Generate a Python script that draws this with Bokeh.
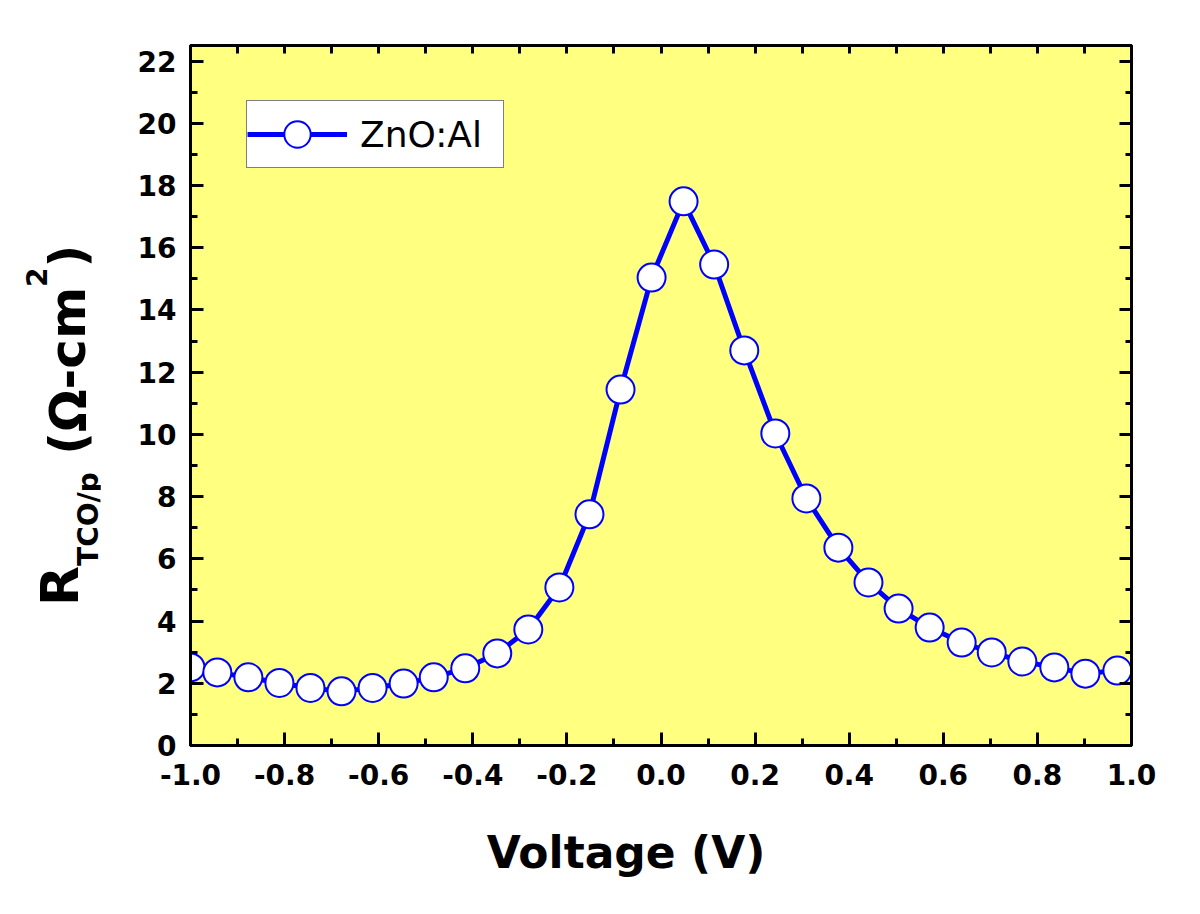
import math
from bokeh.plotting import figure
from bokeh.layouts import row, column
from bokeh.models import (Range1d, LinearAxis, SingleIntervalTicker, NumeralTickFormatter,
                          CustomJSTickFormatter, Legend, LegendItem, Div)
from bokeh.embed import file_html
from bokeh.resources import INLINE

# ---- data ----
voltage = [-1.000, -0.943, -0.877, -0.811, -0.745, -0.679, -0.613, -0.547, -0.483,
           -0.416, -0.348, -0.282, -0.216, -0.152, -0.086, -0.020, 0.048, 0.113,
           0.177, 0.243, 0.309, 0.377, 0.441, 0.505, 0.571, 0.639, 0.703, 0.768,
           0.836, 0.902, 0.970]
resistance = [2.51, 2.35, 2.19, 2.01, 1.85, 1.74, 1.85, 1.99, 2.19, 2.48, 2.96,
              3.73, 5.08, 7.43, 11.44, 15.04, 17.49, 15.46, 12.70, 10.03, 7.94,
              6.36, 5.24, 4.40, 3.79, 3.31, 2.99, 2.70, 2.51, 2.31, 2.41]
series_name = "ZnO:Al"
x_label = "Voltage (V)"

FONT = "DejaVu Sans"
BLUE = "#0000ff"

X0, X1 = -1.0, 1.0
Y0, Y1 = 0.0, 22.5
FW, FH = 941, 700
FL, FT = 190, 45          # frame left / top on the page
YDIV_W = 100              # width of the y-title column left of the figure
BOT = 60                  # space below the frame inside the figure

p = figure(frame_width=FW, frame_height=FH,
           x_range=Range1d(X0, X1), y_range=Range1d(Y0, Y1),
           output_backend="svg", toolbar_location=None,
           x_axis_type=None, y_axis_type=None,
           min_border_left=FL - YDIV_W, min_border_top=FT,
           min_border_right=40, min_border_bottom=BOT,
           background_fill_color="#ffff80", border_fill_color="white")
p.outline_line_color = "black"
p.outline_line_width = 3


def style(ax, major_in, minor_in, labels=True):
    ax.axis_line_color = "black"
    ax.axis_line_width = 3
    ax.major_tick_in = major_in
    ax.major_tick_out = 0
    ax.minor_tick_in = minor_in
    ax.minor_tick_out = 0
    ax.major_tick_line_width = 3
    ax.minor_tick_line_width = 3
    ax.major_label_text_font = FONT
    ax.major_label_text_font_style = "bold"
    ax.major_label_text_font_size = "28px"
    ax.major_label_text_color = "black"
    if not labels:
        ax.formatter = CustomJSTickFormatter(code="return ''")
        ax.major_label_text_font_size = "1px"
        ax.major_label_standoff = 0


bottom = LinearAxis(ticker=SingleIntervalTicker(interval=0.2, num_minor_ticks=2),
                    formatter=NumeralTickFormatter(format="0.0"))
style(bottom, 13, 7)
bottom.major_label_standoff = 18
p.add_layout(bottom, "below")

left = LinearAxis(ticker=SingleIntervalTicker(interval=2, num_minor_ticks=2),
                  formatter=NumeralTickFormatter(format="0"))
style(left, 13, 7)
left.major_label_standoff = 14
p.add_layout(left, "left")

top = LinearAxis(ticker=SingleIntervalTicker(interval=0.1, num_minor_ticks=0))
style(top, 8, 0, labels=False)
p.add_layout(top, "above")

right = LinearAxis(ticker=SingleIntervalTicker(interval=2, num_minor_ticks=2))
style(right, 12, 6, labels=False)
p.add_layout(right, "right")

ln = p.line(voltage, resistance, line_color=BLUE, line_width=5)
sc = p.scatter(voltage, resistance, marker="circle", size=28,
               fill_color="white", line_color=BLUE, line_width=2)

legend = Legend(items=[LegendItem(label=series_name, renderers=[ln, sc])],
                location=(246 - FL, (FT + FH) - 168),
                padding=0, spacing=0, margin=0,
                glyph_width=100, glyph_height=66, label_standoff=13,
                label_width=143, label_height=66,
                label_text_font=FONT, label_text_font_size="36px",
                label_text_color="black", label_text_baseline="middle",
                border_line_color="black", border_line_width=1.5,
                background_fill_color="white", background_fill_alpha=1.0)
p.add_layout(legend)

FIG_H = FT + FH + BOT

# ---- y axis title: R_TCO/p (Ω-cm²), rotated, as HTML text ----
y_html = f"""
<div style="position:relative; width:{YDIV_W}px; height:{FIG_H}px; overflow:visible;">
  <div style="position:absolute; left:25px; top:606px; width:420px; height:70px;
              line-height:70px; white-space:nowrap; text-align:left;
              transform-origin:0 0; transform:rotate(-90deg);
              font-family:'{FONT}'; font-weight:bold; font-size:52px; color:black;">
    <span style="font-size:52px;">R</span><span style="font-size:28px; position:relative; top:20px;">TCO/p</span><span style="font-size:50px; position:relative; top:7px;">&nbsp;(&#937;-cm</span><span style="font-size:28px; position:relative; top:-31px;">2</span><span style="font-size:50px; position:relative; top:7px;">)</span>
  </div>
</div>
"""
ydiv = Div(text=y_html, width=YDIV_W, height=FIG_H, margin=0,
           styles={"overflow": "visible"})

# ---- x axis title ----
X_DIV_H = 100
x_html = f"""
<div style="position:relative; width:1180px; height:{X_DIV_H}px; overflow:visible;">
  <div style="position:absolute; left:{626 - 300}px; top:18px; width:600px; height:60px;
              line-height:60px; text-align:center; white-space:nowrap;
              font-family:'{FONT}'; font-weight:bold; font-size:44px; color:black;">{x_label}</div>
</div>
"""
xdiv = Div(text=x_html, width=1180, height=X_DIV_H, margin=0,
           styles={"overflow": "visible"})

layout = column(row(ydiv, p, spacing=0), xdiv, spacing=0)

open("out.html", "w").write(file_html(layout, INLINE))
